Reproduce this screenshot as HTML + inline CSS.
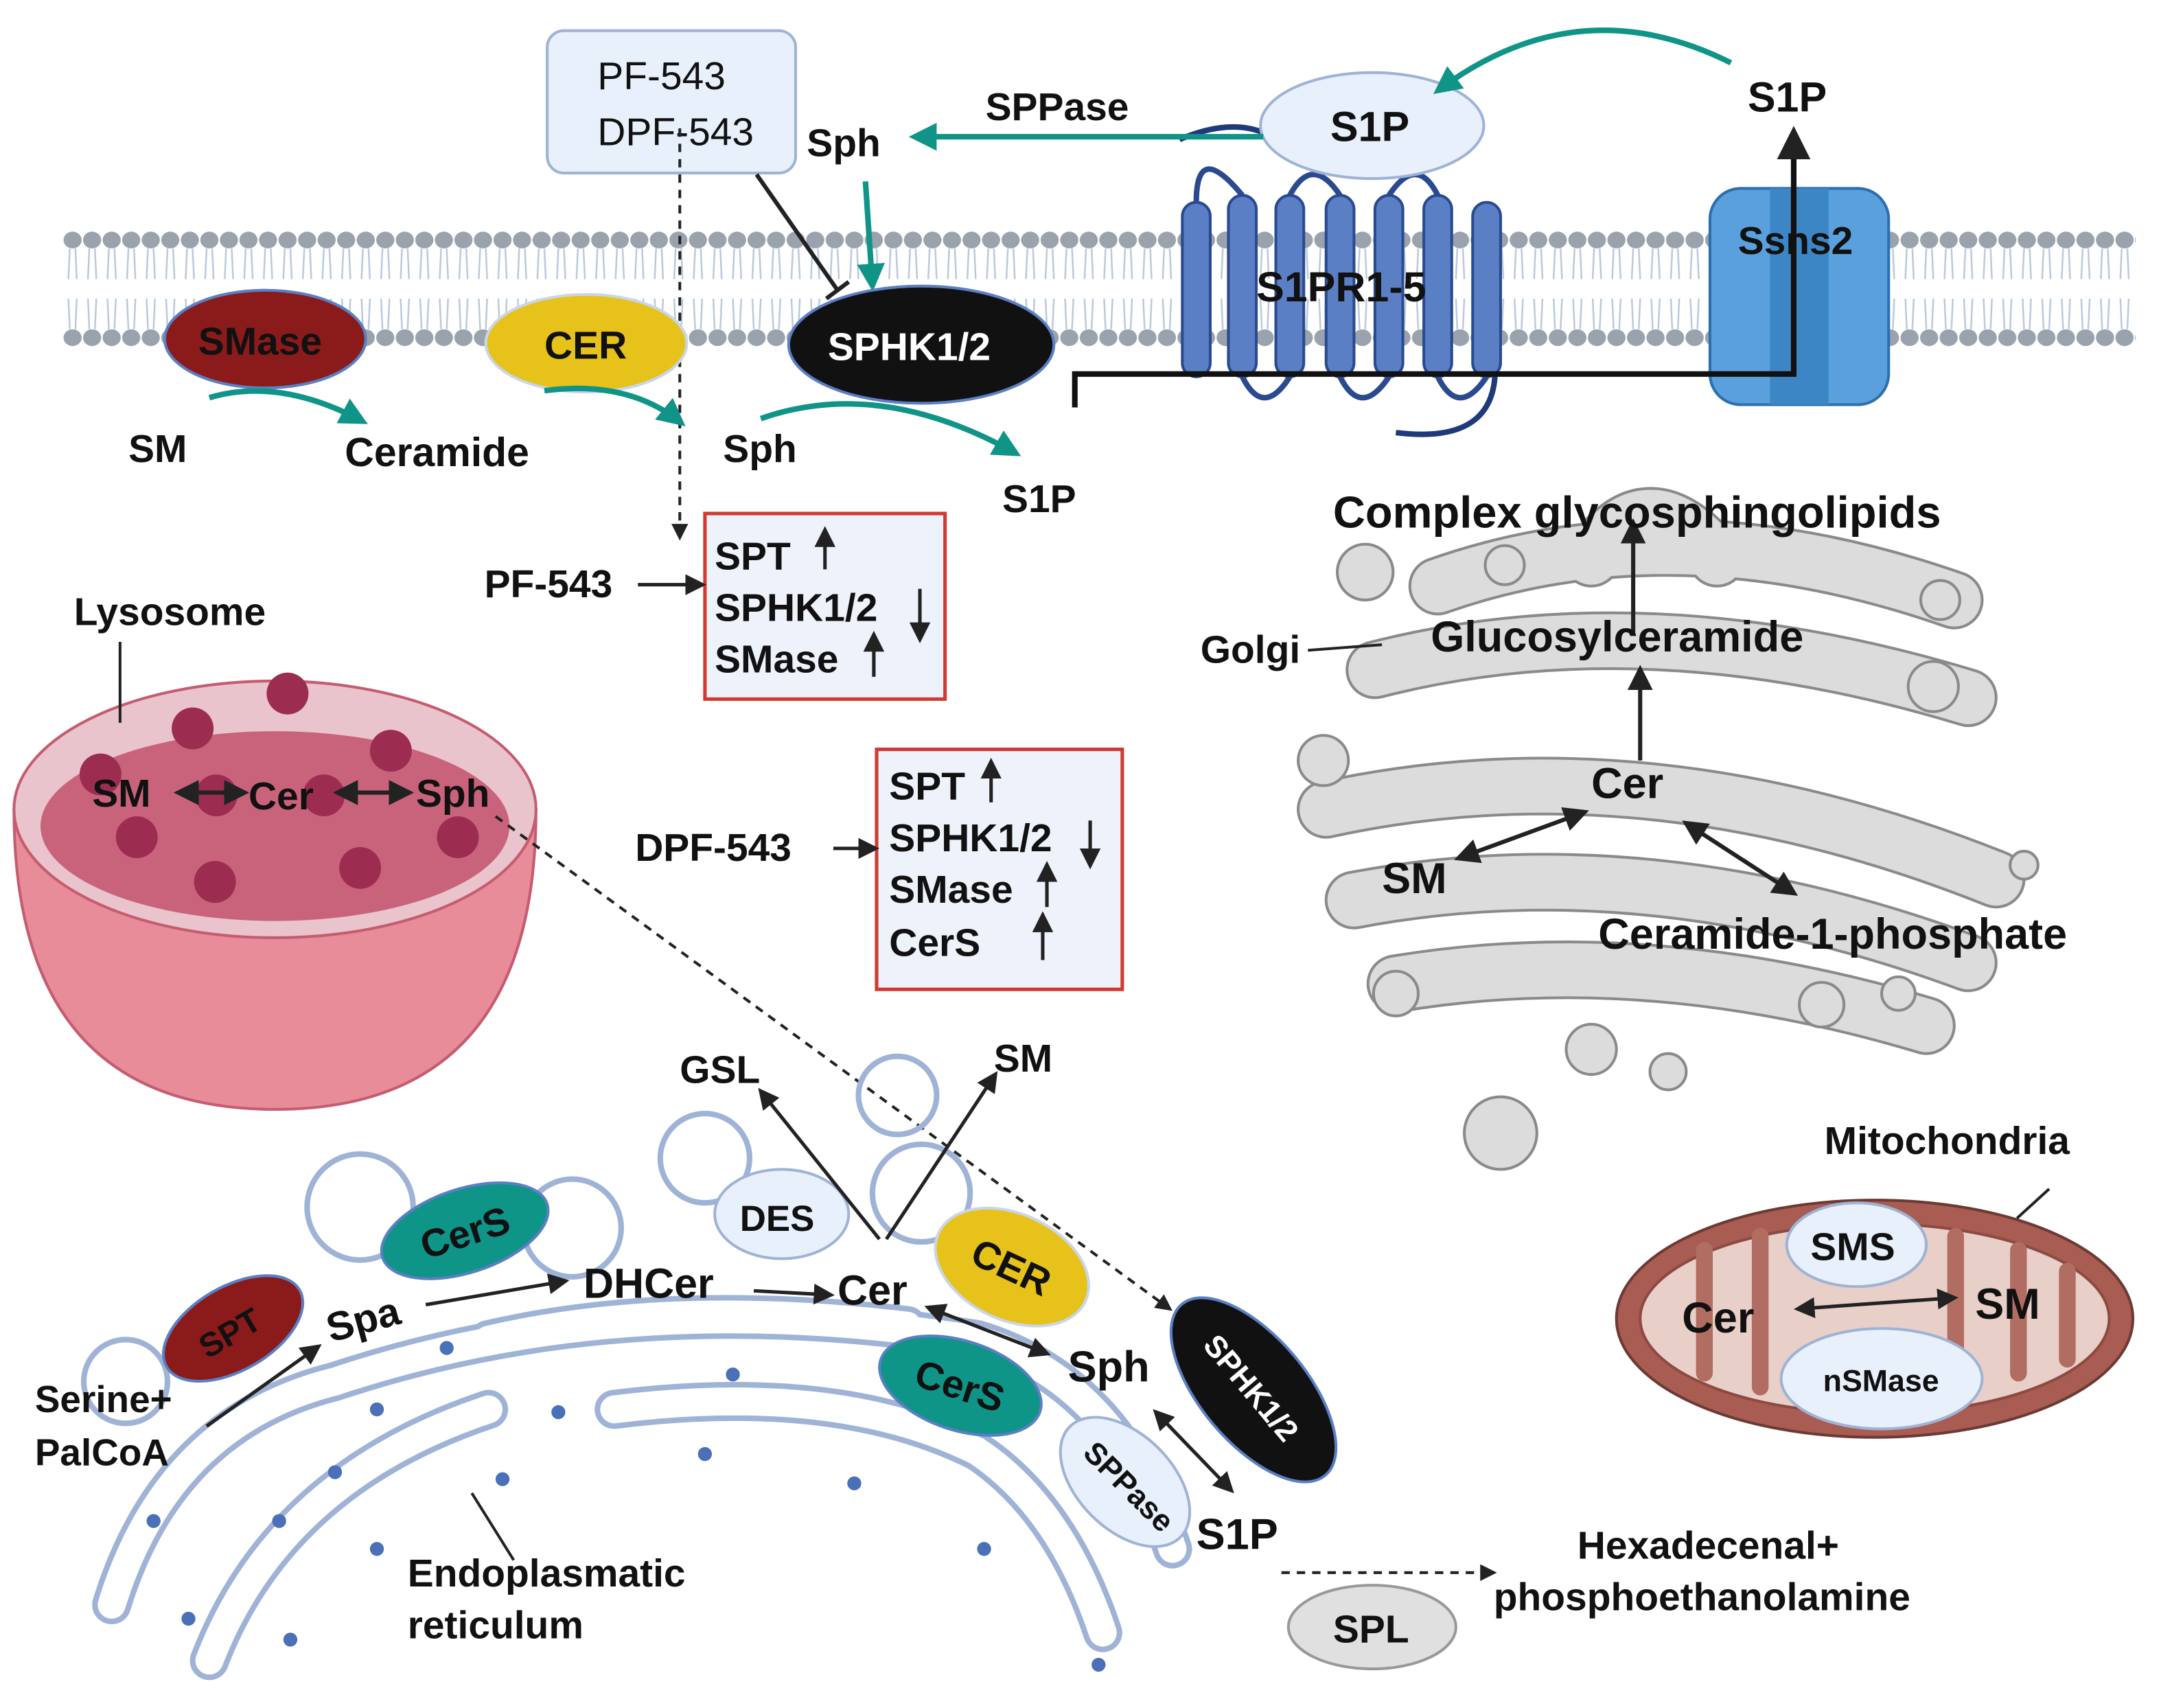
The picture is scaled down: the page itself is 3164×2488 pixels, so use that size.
<!DOCTYPE html>
<html><head><meta charset="utf-8"><style>
html,body{margin:0;padding:0;background:#fff;}
svg{display:block}
text{font-family:"Liberation Sans",sans-serif;font-weight:bold;fill:#111}
</style></head><body>
<svg width="3164" height="2488" viewBox="0 0 1556 1224" preserveAspectRatio="none" xmlns="http://www.w3.org/2000/svg">
<defs>
<pattern id="mem" x="45" y="0" width="14" height="1224" patternUnits="userSpaceOnUse">
<ellipse cx="7" cy="172" rx="6.5" ry="6" fill="#9aa3ad"/>
<ellipse cx="7" cy="242" rx="6.5" ry="6" fill="#9aa3ad"/>
<path d="M5 178 L4 200 M9 178 L10 200 M5 236 L4 214 M9 236 L10 214" stroke="#b8c8dc" stroke-width="1.2" fill="none"/>
</pattern>
<marker id="ta" viewBox="0 0 10 10" refX="8" refY="5" markerWidth="5" markerHeight="5" orient="auto"><path d="M0 0L10 5L0 10z" fill="#109488"/></marker>
<marker id="ka" viewBox="0 0 10 10" refX="8" refY="5" markerWidth="6" markerHeight="6" orient="auto"><path d="M0 0L10 5L0 10z" fill="#222"/></marker>
<marker id="kb" viewBox="0 0 10 10" refX="2" refY="5" markerWidth="6" markerHeight="6" orient="auto"><path d="M10 0L0 5L10 10z" fill="#222"/></marker>
</defs>
<rect width="1556" height="1224" fill="#fff"/>
<rect x="45" y="160" width="1485" height="92" fill="url(#mem)"/>

<!-- Golgi -->
<g fill="none" stroke-linecap="round">
<g stroke="#8a8a8a" stroke-width="42">
<path d="M1140 400 Q1180 340 1230 400"/>
<path d="M1030 420 Q1200 360 1400 430"/>
<path d="M985 480 Q1180 430 1410 500"/>
<path d="M950 580 Q1180 530 1430 630"/>
<path d="M970 645 Q1180 605 1410 690"/>
<path d="M1000 705 Q1180 675 1380 735"/>
</g>
<g stroke="#dcdcdc" stroke-width="38">
<path d="M1140 400 Q1180 340 1230 400"/>
<path d="M1030 420 Q1200 360 1400 430"/>
<path d="M985 480 Q1180 430 1410 500"/>
<path d="M950 580 Q1180 530 1430 630"/>
<path d="M970 645 Q1180 605 1410 690"/>
<path d="M1000 705 Q1180 675 1380 735"/>
</g>
</g>
<g fill="#dcdcdc" stroke="#8a8a8a" stroke-width="2">
<circle cx="978" cy="410" r="20"/><circle cx="1078" cy="405" r="14"/><circle cx="1385" cy="492" r="18"/>
<circle cx="948" cy="545" r="18"/><circle cx="1000" cy="712" r="16"/><circle cx="1140" cy="752" r="18"/>
<circle cx="1075" cy="812" r="26"/><circle cx="1195" cy="768" r="13"/><circle cx="1305" cy="720" r="16"/>
<circle cx="1360" cy="712" r="12"/><circle cx="1450" cy="620" r="10"/><circle cx="1390" cy="430" r="14"/>
</g>
<path d="M1170 455 L1170 375" stroke="#222" stroke-width="3" marker-end="url(#ka)"/>
<path d="M1175 545 L1175 480" stroke="#222" stroke-width="3" marker-end="url(#ka)"/>
<path d="M1045 615 L1135 582" stroke="#222" stroke-width="3" marker-start="url(#kb)" marker-end="url(#ka)"/>
<path d="M1208 590 L1285 640" stroke="#222" stroke-width="3" marker-start="url(#kb)" marker-end="url(#ka)"/>
<text x="955" y="378" font-size="32">Complex glycosphingolipids</text>
<text x="1025" y="467" font-size="31">Glucosylceramide</text>
<text x="860" y="475" font-size="28">Golgi</text>
<path d="M937 466 L990 462" stroke="#222" stroke-width="2"/>
<text x="1140" y="572" font-size="31">Cer</text>
<text x="990" y="640" font-size="31">SM</text>
<text x="1145" y="680" font-size="31">Ceramide-1-phosphate</text>

<!-- receptor -->
<path d="M1000 310 Q1080 320 1070 250" stroke="#1f3a7a" stroke-width="4" fill="none"/>
<path d="M845 100 Q880 85 905 95" stroke="#1f3a7a" stroke-width="4" fill="none"/>
<g fill="#5b7fc4" stroke="#2a4a90" stroke-width="2">
<rect x="847" y="145" width="20" height="125" rx="10"/>
<rect x="880" y="140" width="20" height="130" rx="10"/>
<rect x="914" y="140" width="20" height="130" rx="10"/>
<rect x="950" y="140" width="20" height="130" rx="10"/>
<rect x="985" y="140" width="20" height="130" rx="10"/>
<rect x="1020" y="140" width="20" height="130" rx="10"/>
<rect x="1055" y="145" width="20" height="125" rx="10"/>
</g>
<path d="M857 145 Q857 100 890 140 M924 140 Q940 110 960 140 M995 140 Q1015 110 1030 140 M890 270 Q905 300 924 270 M960 270 Q975 300 995 270 M1030 270 Q1045 300 1065 270" stroke="#2a4a90" stroke-width="4" fill="none"/>
<ellipse cx="983" cy="90" rx="80" ry="38" fill="#e8f0fb" stroke="#9fb3d6" stroke-width="2"/>
<text x="953" y="101" font-size="30">S1P</text>
<text x="900" y="216" font-size="30">S1PR1-5</text>
<rect x="1225" y="135" width="128" height="155" rx="22" fill="#5aa0dc" stroke="#2c6fb0" stroke-width="2"/>
<rect x="1268" y="135" width="42" height="155" fill="#3d86c6"/>
<text x="1245" y="182" font-size="28">Ssns2</text>
<path d="M770 292 L770 268 L1285 268 L1285 95" stroke="#111" stroke-width="4" fill="none" marker-end="url(#ka)"/>
<text x="1252" y="80" font-size="30">S1P</text>
<path d="M1240 45 Q1130 -10 1030 65" stroke="#109488" stroke-width="4" fill="none" marker-end="url(#ta)"/>
<path d="M905 98 L655 98" stroke="#109488" stroke-width="4" marker-end="url(#ta)"/>
<text x="706" y="86" font-size="28">SPPase</text>
<text x="578" y="112" font-size="28">Sph</text>
<path d="M620 130 L625 205" stroke="#109488" stroke-width="4" marker-end="url(#ta)"/>

<rect x="392" y="22" width="178" height="102" rx="12" fill="#e8f0fb" stroke="#9fb3d6" stroke-width="2"/>
<text x="428" y="64" font-size="28" style="font-weight:normal">PF-543</text>
<text x="428" y="104" font-size="28" style="font-weight:normal">DPF-543</text>
<path d="M542 125 L600 208" stroke="#222" stroke-width="3"/>
<path d="M592 214 L608 202" stroke="#222" stroke-width="3"/>
<path d="M487 92 L487 385" stroke="#222" stroke-width="2" stroke-dasharray="6,5" marker-end="url(#ka)"/>

<ellipse cx="190" cy="243" rx="72" ry="35" fill="#8b1a1a" stroke="#5b7fc4" stroke-width="2"/>
<text x="142" y="254" font-size="28">SMase</text>
<ellipse cx="420" cy="246" rx="72" ry="35" fill="#e6c21a" stroke="#c9d6ea" stroke-width="2"/>
<text x="390" y="257" font-size="28">CER</text>
<ellipse cx="660" cy="247" rx="95" ry="42" fill="#111" stroke="#5b7fc4" stroke-width="2"/>
<text x="593" y="258" font-size="28" style="fill:#fff">SPHK1/2</text>
<path d="M150 285 Q200 270 260 302" stroke="#109488" stroke-width="4" fill="none" marker-end="url(#ta)"/>
<path d="M390 280 Q450 272 488 303" stroke="#109488" stroke-width="4" fill="none" marker-end="url(#ta)"/>
<path d="M545 300 Q630 270 728 325" stroke="#109488" stroke-width="4" fill="none" marker-end="url(#ta)"/>
<text x="92" y="331" font-size="28">SM</text>
<text x="247" y="334" font-size="29">Ceramide</text>
<text x="518" y="331" font-size="28">Sph</text>
<text x="718" y="367" font-size="28">S1P</text>

<rect x="505" y="368" width="172" height="133" fill="#edf2fb" stroke="#d03a32" stroke-width="2.5"/>
<text x="512" y="408" font-size="28">SPT</text>
<text x="512" y="445" font-size="28">SPHK1/2</text>
<text x="512" y="482" font-size="28">SMase</text>
<path d="M591 408 L591 380" stroke="#222" stroke-width="2.5" marker-end="url(#ka)"/>
<path d="M659 422 L659 458" stroke="#222" stroke-width="2.5" marker-end="url(#ka)"/>
<path d="M626 485 L626 455" stroke="#222" stroke-width="2.5" marker-end="url(#ka)"/>
<text x="347" y="428" font-size="28">PF-543</text>
<path d="M457 419 L503 419" stroke="#222" stroke-width="2.5" marker-end="url(#ka)"/>

<rect x="628" y="537" width="176" height="172" fill="#edf2fb" stroke="#d03a32" stroke-width="2.5"/>
<text x="637" y="573" font-size="28">SPT</text>
<text x="637" y="610" font-size="28">SPHK1/2</text>
<text x="637" y="647" font-size="28">SMase</text>
<text x="637" y="685" font-size="28">CerS</text>
<path d="M710 575 L710 546" stroke="#222" stroke-width="2.5" marker-end="url(#ka)"/>
<path d="M781 588 L781 620" stroke="#222" stroke-width="2.5" marker-end="url(#ka)"/>
<path d="M750 650 L750 620" stroke="#222" stroke-width="2.5" marker-end="url(#ka)"/>
<path d="M747 688 L747 656" stroke="#222" stroke-width="2.5" marker-end="url(#ka)"/>
<text x="455" y="617" font-size="28">DPF-543</text>
<path d="M597 608 L627 608" stroke="#222" stroke-width="2.5" marker-end="url(#ka)"/>

<path d="M10 580 Q10 795 197 795 Q384 795 384 580 Z" fill="#e88c9a" stroke="#c55c70" stroke-width="2"/>
<ellipse cx="197" cy="580" rx="187" ry="92" fill="#e9c4cc" stroke="#c55c70" stroke-width="2"/>
<ellipse cx="197" cy="592" rx="168" ry="68" fill="#c9637c"/>
<g fill="#9c2d50">
<ellipse cx="206" cy="497" rx="15" ry="15"/><ellipse cx="138" cy="522" rx="15" ry="15"/><ellipse cx="280" cy="538" rx="15" ry="15"/>
<ellipse cx="72" cy="555" rx="15" ry="15"/><ellipse cx="155" cy="570" rx="15" ry="15"/><ellipse cx="232" cy="570" rx="15" ry="15"/>
<ellipse cx="98" cy="600" rx="15" ry="15"/><ellipse cx="328" cy="600" rx="15" ry="15"/><ellipse cx="154" cy="632" rx="15" ry="15"/><ellipse cx="258" cy="622" rx="15" ry="15"/>
</g>
<text x="53" y="448" font-size="28">Lysosome</text>
<path d="M86 460 L86 518" stroke="#222" stroke-width="2"/>
<text x="66" y="578" font-size="28">SM</text>
<text x="178" y="580" font-size="28">Cer</text>
<text x="298" y="578" font-size="28">Sph</text>
<path d="M128 568 L175 568" stroke="#222" stroke-width="3" marker-start="url(#kb)" marker-end="url(#ka)"/>
<path d="M242 568 L293 568" stroke="#222" stroke-width="3" marker-start="url(#kb)" marker-end="url(#ka)"/>
<path d="M355 585 L838 938" stroke="#222" stroke-width="2" stroke-dasharray="6,5" marker-end="url(#ka)"/>

<g fill="none" stroke-linecap="round">
<g stroke="#9fb3d6" stroke-width="28">
<path d="M80 1150 Q120 1020 240 990 Q450 920 700 960 Q800 990 840 1110"/>
<path d="M150 1190 Q200 1060 350 1010"/>
<path d="M440 1010 Q600 990 700 1040 Q760 1080 790 1170"/>
<path d="M350 960 Q480 930 650 950"/>
</g>
<g stroke="#fff" stroke-width="20">
<path d="M80 1150 Q120 1020 240 990 Q450 920 700 960 Q800 990 840 1110"/>
<path d="M150 1190 Q200 1060 350 1010"/>
<path d="M440 1010 Q600 990 700 1040 Q760 1080 790 1170"/>
<path d="M350 960 Q480 930 650 950"/>
</g>
</g>
<g fill="none" stroke="#9fb3d6" stroke-width="4">
<circle cx="90" cy="990" r="30"/><circle cx="258" cy="865" r="38"/><circle cx="505" cy="830" r="32"/>
<circle cx="643" cy="785" r="28"/><circle cx="660" cy="855" r="35"/><circle cx="410" cy="880" r="35"/>
</g>
<g fill="#4a70b8">
<circle cx="320" cy="966" r="5"/><circle cx="270" cy="1010" r="5"/><circle cx="240" cy="1055" r="5"/><circle cx="200" cy="1090" r="5"/>
<circle cx="110" cy="1090" r="5"/><circle cx="135" cy="1160" r="5"/><circle cx="270" cy="1110" r="5"/><circle cx="208" cy="1175" r="5"/>
<circle cx="525" cy="985" r="5"/><circle cx="505" cy="1042" r="5"/><circle cx="612" cy="1063" r="5"/><circle cx="705" cy="1110" r="5"/>
<circle cx="400" cy="1012" r="5"/><circle cx="787" cy="1193" r="5"/><circle cx="360" cy="1060" r="5"/>
</g>
<ellipse cx="167" cy="952" rx="55" ry="30" fill="#8b1a1a" stroke="#5b7fc4" stroke-width="2" transform="rotate(-30 167 952)"/>
<text x="140" y="962" font-size="24" transform="rotate(-30 167 952)">SPT</text>
<ellipse cx="333" cy="882" rx="62" ry="30" fill="#0f9488" stroke="#5b7fc4" stroke-width="2" transform="rotate(-18 333 882)"/>
<text x="300" y="893" font-size="28" transform="rotate(-18 333 882)">CerS</text>
<ellipse cx="560" cy="870" rx="48" ry="32" fill="#e8f0fb" stroke="#9fb3d6" stroke-width="2"/>
<text x="530" y="882" font-size="26">DES</text>
<ellipse cx="725" cy="908" rx="58" ry="38" fill="#e6c21a" stroke="#c9d6ea" stroke-width="2" transform="rotate(25 725 908)"/>
<text x="695" y="918" font-size="28" transform="rotate(25 725 908)">CER</text>
<ellipse cx="688" cy="993" rx="60" ry="32" fill="#0f9488" stroke="#5b7fc4" stroke-width="2" transform="rotate(18 688 993)"/>
<text x="655" y="1003" font-size="28" transform="rotate(18 688 993)">CerS</text>
<ellipse cx="898" cy="996" rx="80" ry="38" fill="#111" stroke="#5b7fc4" stroke-width="2" transform="rotate(50 898 996)"/>
<text x="850" y="1004" font-size="22" style="fill:#fff" transform="rotate(50 898 996)">SPHK1/2</text>
<ellipse cx="806" cy="1062" rx="56" ry="34" fill="#e8f0fb" stroke="#9fb3d6" stroke-width="2" transform="rotate(45 806 1062)"/>
<text x="770" y="1070" font-size="22" transform="rotate(45 806 1062)">SPPase</text>
<text x="25" y="1012" font-size="27">Serine+</text>
<text x="25" y="1050" font-size="27">PalCoA</text>
<path d="M148 1022 L228 965" stroke="#222" stroke-width="2.5" marker-end="url(#ka)"/>
<text x="237" y="962" font-size="29" transform="rotate(-15 237 962)">Spa</text>
<path d="M305 935 L405 918" stroke="#222" stroke-width="2.5" marker-end="url(#ka)"/>
<text x="418" y="930" font-size="30">DHCer</text>
<path d="M540 925 L595 928" stroke="#222" stroke-width="2.5" marker-end="url(#ka)"/>
<text x="600" y="935" font-size="30">Cer</text>
<path d="M630 888 L545 782" stroke="#222" stroke-width="2.5" marker-end="url(#ka)"/>
<path d="M635 888 L713 770" stroke="#222" stroke-width="2.5" marker-end="url(#ka)"/>
<text x="487" y="776" font-size="28">GSL</text>
<text x="712" y="768" font-size="28">SM</text>
<path d="M665 937 L750 970" stroke="#222" stroke-width="2.5" marker-start="url(#kb)" marker-end="url(#ka)"/>
<text x="765" y="990" font-size="31">Sph</text>
<path d="M828 1012 L882 1068" stroke="#222" stroke-width="2.5" marker-start="url(#kb)" marker-end="url(#ka)"/>
<text x="857" y="1110" font-size="31">S1P</text>
<text x="292" y="1137" font-size="28">Endoplasmatic</text>
<text x="292" y="1174" font-size="28">reticulum</text>
<path d="M338 1070 L368 1118" stroke="#222" stroke-width="2"/>
<path d="M918 1127 L1070 1127" stroke="#222" stroke-width="2" stroke-dasharray="6,5" marker-end="url(#ka)"/>
<ellipse cx="983" cy="1166" rx="60" ry="30" fill="#e0e0e0" stroke="#999" stroke-width="2"/>
<text x="955" y="1177" font-size="28">SPL</text>
<text x="1130" y="1117" font-size="28">Hexadecenal+</text>
<text x="1070" y="1154" font-size="28">phosphoethanolamine</text>

<ellipse cx="1343" cy="945" rx="185" ry="85" fill="#a85c52" stroke="#6b3a34" stroke-width="2"/>
<ellipse cx="1343" cy="945" rx="168" ry="68" fill="#e8cfc8" stroke="#8c4a42" stroke-width="2"/>
<g fill="#b26d62">
<rect x="1215" y="890" width="12" height="100" rx="6"/><rect x="1255" y="880" width="12" height="120" rx="6"/>
<rect x="1395" y="880" width="12" height="120" rx="6"/><rect x="1440" y="890" width="12" height="100" rx="6"/>
<rect x="1475" y="905" width="12" height="75" rx="6"/>
</g>
<ellipse cx="1330" cy="892" rx="50" ry="30" fill="#e8f0fb" stroke="#9fb3d6" stroke-width="2"/>
<text x="1297" y="903" font-size="28">SMS</text>
<ellipse cx="1348" cy="988" rx="72" ry="36" fill="#e8f0fb" stroke="#9fb3d6" stroke-width="2"/>
<text x="1306" y="997" font-size="22">nSMase</text>
<text x="1205" y="955" font-size="31">Cer</text>
<text x="1415" y="945" font-size="31">SM</text>
<path d="M1288 938 L1400 930" stroke="#222" stroke-width="2.5" marker-start="url(#kb)" marker-end="url(#ka)"/>
<text x="1307" y="827" font-size="28">Mitochondria</text>
<path d="M1468 852 L1445 873" stroke="#222" stroke-width="2"/>
</svg>
</body></html>
